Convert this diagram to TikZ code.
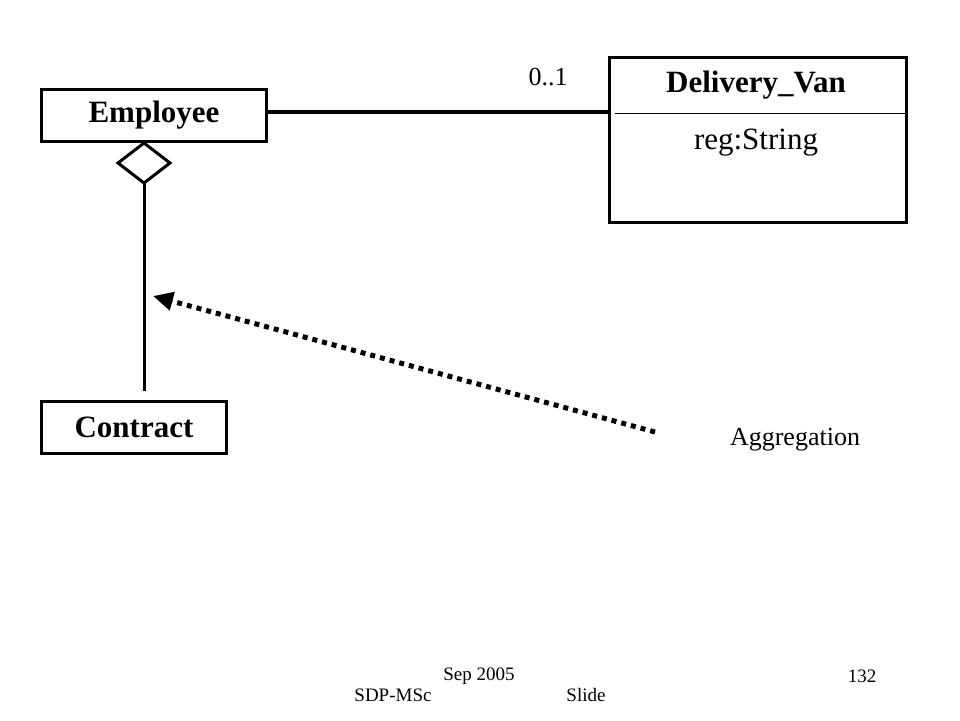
\documentclass[tikz,border=0pt]{standalone}
\usepackage{fontspec}
\setmainfont{Liberation Serif}
\usetikzlibrary{arrows.meta}
\begin{document}
\begin{tikzpicture}[x=1pt,y=-1pt,
  classbox/.style={draw,line width=3pt,rectangle,inner sep=0pt,anchor=north west},
  titletext/.style={font=\fontsize{31}{36}\selectfont\bfseries},
  bigtext/.style={font=\fontsize{31}{36}\selectfont},
  smalltext/.style={font=\fontsize{26}{30}\selectfont},
  foottext/.style={font=\fontsize{19}{22}\selectfont}]
\useasboundingbox (0,0) rectangle (960,720);
% Employee
\node[classbox,minimum width=225pt,minimum height=52pt] (emp) at (40,88) {};
\node[titletext] (emplbl) at (emp.center) {Employee};
% Contract
\node[classbox,minimum width=185pt,minimum height=52pt] (con) at (40,400) {};
\node[titletext] (conlbl) at (con.center) {Contract};
% Delivery_Van
\node[classbox,minimum width=297pt,minimum height=165pt] (van) at (608,56) {};
\node[titletext] (vanlbl) at (756,85) {Delivery\_Van};
\coordinate (sepL) at (615,113);
\coordinate (sepR) at (905,113);
\draw[line width=0.8pt] (sepL) -- (sepR);
\node[bigtext] (reg) at (756,143) {reg:String};
% diamond
\coordinate (dT) at (144,143);
\coordinate (dR) at (170,163);
\coordinate (dB) at (144,183);
\coordinate (dL) at (118,163);
\draw[line width=3pt,line join=miter] (dT) -- (dR) -- (dB) -- (dL) -- cycle;
\coordinate (conTop) at (144,391);
\draw[line width=3pt] (dB) -- (conTop);
% association
\draw[line width=4pt] (emp.east |- 0,112) -- (van.west |- 0,112);
\node[smalltext] (mult) at (548,77) {0..1};
% dotted arrow
\coordinate (aStart) at (655,432);
\coordinate (aEnd) at (153,296);
\draw[line width=5pt,dash pattern=on 5pt off 5pt,-{Triangle[length=20pt,width=18pt]}] (aStart) -- (aEnd);
\node[smalltext] (agg) at (795,440) {Aggregation};
% footer
\node[foottext] (f1) at (479,676) {Sep 2005};
\node[foottext] (f2) at (862,676) {132};
\node[foottext] (f3) at (393,695) {SDP-MSc};
\node[foottext] (f4) at (586,695) {Slide};
\end{tikzpicture}
\end{document}
